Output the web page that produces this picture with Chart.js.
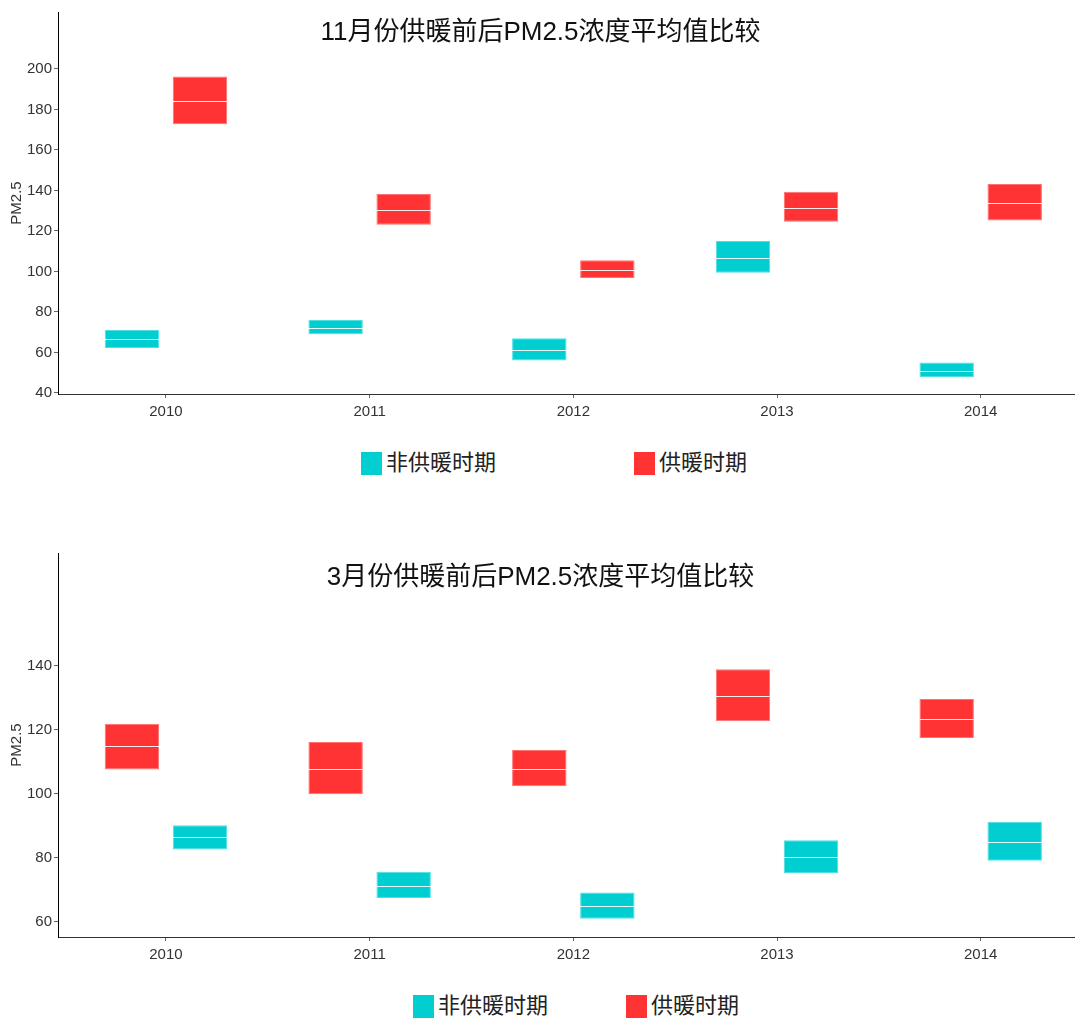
<!DOCTYPE html>
<html>
<head>
<meta charset="utf-8">
<script src="https://cdn.jsdelivr.net/npm/chart.js@4.4.0/dist/chart.umd.min.js"></script>
<style>
    body { margin: 0; background: #fff; width: 1075px; height: 1018px; overflow: hidden; position: relative;
           font-family: "Liberation Sans", "Noto Sans CJK SC", sans-serif; }
    canvas { position: absolute; left: 0; }
    .title { position: absolute; left: 3px; width: 1075px; text-align: center; font-size: 26px; line-height: 30px; color: #111; }
    .legend { position: absolute; display: flex; align-items: flex-start; font-size: 22px; line-height: 23px; color: #222; }
    .legend .sw { width: 21px; height: 23px; margin-right: 4px; }
    .legend .txt { position: relative; top: -1px; }
</style>
</head>
<body>
<canvas id="novChart" width="1075" height="430" style="top:0"></canvas>
<canvas id="marChart" width="1075" height="430" style="top:540px"></canvas>

<div class="title" style="top:16px">11月份供暖前后PM2.5浓度平均值比较</div>
<div class="title" style="top:561px">3月份供暖前后PM2.5浓度平均值比较</div>

<div class="legend" id="novLegend" style="left:361px; top:452px"></div>
<div class="legend" id="marLegend" style="left:413px; top:995px"></div>

<script>
const years = [2010, 2011, 2012, 2013, 2014];
const seriesNames = ['非供暖时期', '供暖时期'];
const cyan = '#00CED1', red = '#FF3333';

// 11月: low / median / high
const novNonHeatLow  = [62.2, 69.0, 56.0, 99.4, 47.9];
const novNonHeatMid  = [66.5, 72.2, 61.2, 106.7, 51.0];
const novNonHeatHigh = [71.1, 76.0, 67.0, 115.1, 55.0];
const novHeatLow  = [172.7, 123.1, 96.8, 124.6, 125.1];
const novHeatMid  = [184.0, 130.4, 100.7, 131.4, 134.0];
const novHeatHigh = [196.2, 138.3, 105.5, 139.3, 143.2];

// 3月
const marNonHeatLow  = [82.6, 67.5, 61.0, 75.3, 79.1];
const marNonHeatMid  = [86.4, 71.2, 64.9, 80.3, 85.0];
const marNonHeatHigh = [90.2, 75.7, 69.2, 85.5, 91.3];
const marHeatLow  = [107.6, 99.9, 102.4, 122.7, 117.4];
const marHeatMid  = [114.8, 107.7, 107.8, 130.5, 123.4];
const marHeatHigh = [121.9, 116.2, 113.7, 138.9, 129.6];

const novTicks = [40, 60, 80, 100, 120, 140, 160, 180, 200];
const marTicks = [60, 80, 100, 120, 140];

function boxes(low, high) {
    return years.map((y, i) => ({ x: y, y: [low[i], high[i]] }));
}

function dataset(label, color, border, low, mid, high) {
    return {
        label: label,
        data: boxes(low, high),
        medians: mid,
        backgroundColor: color,
        borderColor: border,
        borderWidth: 1,
        borderSkipped: false,
        categoryPercentage: 0.668,
        barPercentage: 0.8
    };
}

// white median line across each box
const medianLines = {
    id: 'medianLines',
    afterDatasetsDraw(chart) {
        const ctx = chart.ctx;
        const yScale = chart.scales.y;
        ctx.save();
        ctx.strokeStyle = 'rgba(255,255,255,0.9)';
        ctx.lineWidth = 1;
        chart.data.datasets.forEach((ds, di) => {
            chart.getDatasetMeta(di).data.forEach((bar, i) => {
                const y = Math.round(yScale.getPixelForValue(ds.medians[i])) + 0.5;
                ctx.beginPath();
                ctx.moveTo(bar.x - bar.width / 2, y);
                ctx.lineTo(bar.x + bar.width / 2, y);
                ctx.stroke();
            });
        });
        ctx.restore();
    }
};

function makeChart(id, datasets, yMin, yMax, yTicks, padTop, xHeight) {
    const tickFont = { family: 'Liberation Sans', size: 15 };
    return new Chart(document.getElementById(id), {
        type: 'bar',
        data: { datasets: datasets },
        options: {
            responsive: false,
            animation: false,
            layout: { padding: { top: padTop, right: 0, bottom: 0, left: 0 } },
            plugins: { legend: { display: false }, title: { display: false }, tooltip: { enabled: false } },
            scales: {
                x: {
                    type: 'linear',
                    offset: false,
                    min: 2009.47,
                    max: 2014.463,
                    afterBuildTicks: s => { s.ticks = years.map(v => ({ value: v })); },
                    afterFit: s => { s.height = xHeight; },
                    ticks: { font: tickFont, color: '#333', padding: 5, maxRotation: 0, autoSkip: false, callback: v => String(v) },
                    grid: { offset: false, drawOnChartArea: false, drawTicks: true, tickLength: 4, color: '#666' },
                    border: { color: '#333', width: 1 }
                },
                y: {
                    type: 'linear',
                    min: yMin,
                    max: yMax,
                    afterBuildTicks: s => { s.ticks = yTicks.map(v => ({ value: v })); },
                    afterFit: s => { s.width = 58; },
                    ticks: { font: tickFont, color: '#333', padding: 2 },
                    grid: { drawOnChartArea: false, drawTicks: true, tickLength: 4, color: '#666' },
                    border: { color: '#000', width: 1 },
                    title: { display: true, text: 'PM2.5', color: '#333', font: { family: 'Liberation Sans', size: 15 }, padding: { top: 8, bottom: 0 } }
                }
            }
        },
        plugins: [medianLines]
    });
}

makeChart('novChart', [
    dataset(seriesNames[0], cyan, '#4fdfe1', novNonHeatLow, novNonHeatMid, novNonHeatHigh),
    dataset(seriesNames[1], red, '#ff7070', novHeatLow, novHeatMid, novHeatHigh)
], 39.5, 228.1, novTicks, 12, 36);

makeChart('marChart', [
    dataset(seriesNames[1], red, '#ff7070', marHeatLow, marHeatMid, marHeatHigh),
    dataset(seriesNames[0], cyan, '#4fdfe1', marNonHeatLow, marNonHeatMid, marNonHeatHigh)
], 55.3, 175.2, marTicks, 13, 33);

function buildLegend(id, gap) {
    const el = document.getElementById(id);
    [[seriesNames[0], cyan], [seriesNames[1], red]].forEach((item, i) => {
        const sw = document.createElement('span');
        sw.className = 'sw';
        sw.style.background = item[1];
        const txt = document.createElement('span');
        txt.className = 'txt';
        txt.textContent = item[0];
        if (i > 0) sw.style.marginLeft = gap + 'px';
        el.appendChild(sw);
        el.appendChild(txt);
    });
}
buildLegend('novLegend', 138);
buildLegend('marLegend', 78);
</script>
</body>
</html>
